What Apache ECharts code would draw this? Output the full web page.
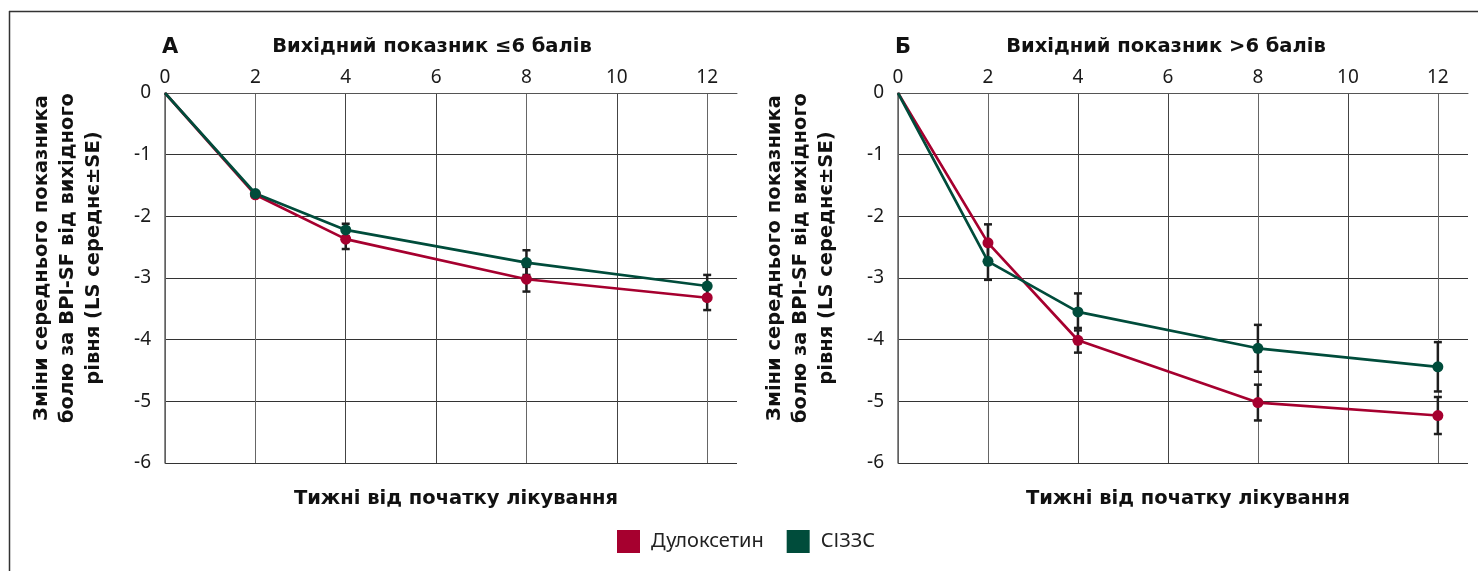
<!DOCTYPE html>
<html>
<head>
<meta charset="utf-8">
<script src="https://cdn.jsdelivr.net/npm/echarts@6/dist/echarts.min.js"></script>
<style>
html,body{margin:0;padding:0;background:#fff;}
#chart{width:1478px;height:571px;}
</style>
</head>
<body>
<div id="chart"></div>
<script>
// ---- data ----
const weeks = [0, 2, 4, 8, 12];
const seriesNames = ['Дулоксетин', 'СІЗЗС'];
// Panel А: baseline score ≤6
const aDulMean = [0, -1.65, -2.37, -3.02, -3.32];
const aDulSE   = [0, 0, 0.16, 0.20, 0.20];
const aSsriMean = [0, -1.63, -2.22, -2.75, -3.13];
const aSsriSE   = [0, 0, 0.10, 0.20, 0.18];
// Panel Б: baseline score >6
const bDulMean = [0, -2.43, -4.01, -5.02, -5.23];
const bDulSE   = [0, 0.30, 0.20, 0.29, 0.30];
const bSsriMean = [0, -2.73, -3.55, -4.14, -4.44];
const bSsriSE   = [0, 0.30, 0.30, 0.38, 0.40];

const panelTitles = ['Вихідний показник ≤6 балів', 'Вихідний показник >6 балів'];
const panelLetters = ['А', 'Б'];
const xName = 'Тижні від початку лікування';
const yName = 'Зміни середнього показника\nболю за BPI-SF від вихідного\nрівня (LS середнє±SE)';

// ---- styles ----
const RED = '#A6002F';
const GREEN = '#004C3B';
const FONT = '"Noto Sans", "DejaVu Sans", sans-serif';
const BFONT = '"DejaVu Sans", "Noto Sans", sans-serif';

const chart = echarts.init(document.getElementById('chart'), null, {renderer: 'canvas'});

const grids = [
  {left: 165, top: 93, width: 572, height: 370},
  {left: 898, top: 93, width: 570, height: 370}
];

function pts(xs, ys) { return xs.map((x, i) => [x, ys[i]]); }
function errPts(xs, ys, se) { return xs.map((x, i) => [x, ys[i], se[i]]); }

const xMax = [12.66, 12.67];
const xAxes = [];
const yAxes = [];
grids.forEach((g, i) => {
  xAxes.push({
    type: 'value', gridIndex: i, position: 'top', min: 0, max: xMax[i], interval: 2,
    axisLine: {show: true, lineStyle: {color: '#555', width: 1}},
    axisTick: {show: false},
    axisLabel: {
      color: '#1a1a1a', fontFamily: FONT, fontSize: 19, margin: 6,
      formatter: v => (Math.abs(v % 2) < 1e-9 ? String(v) : '')
    },
    splitLine: {show: true, lineStyle: {color: ['#555','#666','#444','#444','#666','#444','#666','rgba(0,0,0,0)'], width: 1}}
  });
  yAxes.push({
    type: 'value', gridIndex: i, min: -6, max: 0, interval: 1,
    axisLine: {show: true, onZero: false, lineStyle: {color: '#666', width: 1.5}},
    axisTick: {show: false},
    axisLabel: {color: '#1a1a1a', fontFamily: FONT, fontSize: 19, margin: 14},
    splitLine: {show: true, lineStyle: {color: '#333', width: 1}}
  });
});

function errorSeries(gi, data) {
  return {
    type: 'custom', xAxisIndex: gi, yAxisIndex: gi, z: 3,
    data: data,
    renderItem: function (params, api) {
      const se = api.value(2);
      if (!se) return null;
      const x = api.value(0), y = api.value(1);
      const hi = api.coord([x, y + se]);
      const lo = api.coord([x, y - se]);
      const hw = 4;
      const st = {stroke: '#1e1e1e', lineWidth: 2.5};
      return {
        type: 'group',
        children: [
          {type: 'line', shape: {x1: hi[0], y1: hi[1], x2: lo[0], y2: lo[1]}, style: st},
          {type: 'line', shape: {x1: hi[0] - hw, y1: hi[1], x2: hi[0] + hw, y2: hi[1]}, style: st},
          {type: 'line', shape: {x1: lo[0] - hw, y1: lo[1], x2: lo[0] + hw, y2: lo[1]}, style: st}
        ]
      };
    },
    silent: true
  };
}

function lineSeries(gi, name, color, data) {
  return {
    type: 'line', name: name, xAxisIndex: gi, yAxisIndex: gi, z: 4,
    data: data,
    symbol: 'circle',
    symbolSize: (v, p) => (p.dataIndex === 0 ? 0 : 11),
    showAllSymbol: true,
    lineStyle: {color: color, width: 2.7},
    itemStyle: {color: color},
    emphasis: {disabled: true},
    animation: false
  };
}

const series = [
  errorSeries(0, errPts(weeks, aDulMean, aDulSE)),
  errorSeries(0, errPts(weeks, aSsriMean, aSsriSE)),
  errorSeries(1, errPts(weeks, bDulMean, bDulSE)),
  errorSeries(1, errPts(weeks, bSsriMean, bSsriSE)),
  lineSeries(0, seriesNames[0], RED, pts(weeks, aDulMean)),
  lineSeries(0, seriesNames[1], GREEN, pts(weeks, aSsriMean)),
  lineSeries(1, seriesNames[0], RED, pts(weeks, bDulMean)),
  lineSeries(1, seriesNames[1], GREEN, pts(weeks, bSsriMean))
];

const titleStyle = {fontFamily: BFONT, fontWeight: 'bold', fontSize: 19.5, color: '#111'};
const titleCenters = [427, 1161];
const titles = [];
grids.forEach((g, i) => {
  const cx = g.left + g.width / 2;
  titles.push({text: panelTitles[i], left: titleCenters[i], textAlign: 'center', top: 32, textStyle: titleStyle});
  titles.push({text: panelLetters[i], left: g.left - 8, top: 32, textStyle: Object.assign({}, titleStyle, {fontSize: 21})});
  titles.push({text: xName, left: cx, textAlign: 'center', top: 484, textStyle: titleStyle});
});

const graphics = [
  {type: 'line', shape: {x1: 9, y1: 11.5, x2: 1478, y2: 11.5}, style: {stroke: '#333', lineWidth: 1.5}, silent: true},
  {type: 'line', shape: {x1: 9.5, y1: 11, x2: 9.5, y2: 571}, style: {stroke: '#333', lineWidth: 1.5}, silent: true}
];
grids.forEach((g) => {
  graphics.push({
    type: 'text', x: g.left - 97, y: g.top + 165, rotation: Math.PI / 2,
    style: {
      text: yName, fontFamily: BFONT, fontWeight: 'bold', fontSize: 19.5, lineHeight: 26,
      fill: '#111', align: 'center', verticalAlign: 'middle'
    },
    silent: true
  });
});

chart.setOption({
  animation: false,
  backgroundColor: '#ffffff',
  title: titles,
  grid: grids,
  xAxis: xAxes,
  yAxis: yAxes,
  legend: {
    data: seriesNames,
    left: 612, top: 525,
    icon: 'rect', itemWidth: 23, itemHeight: 23, itemGap: 23,
    textStyle: {fontFamily: FONT, fontSize: 20, color: '#222', padding: [0, 0, 0, 6]},
    selectedMode: false
  },
  graphic: graphics,
  series: series
});
</script>
</body>
</html>
